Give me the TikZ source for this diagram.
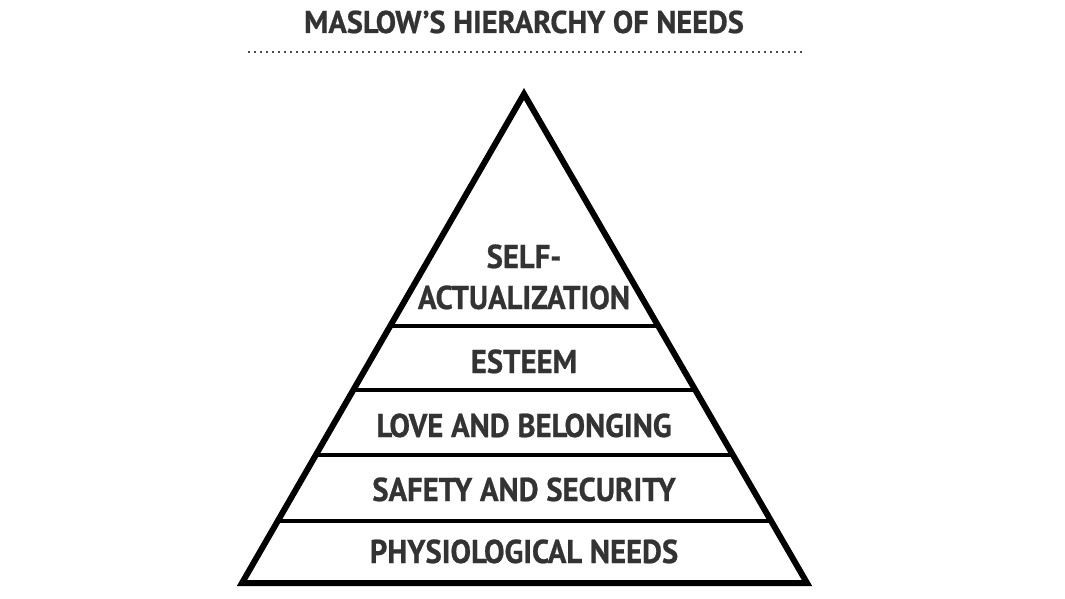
\documentclass[tikz,border=0pt]{standalone}
\usepackage{fontspec}
\setmainfont{PT Sans}[FakeStretch=0.93,BoldFeatures={FakeBold=0.7}]
\newfontfamily\titlefont{PT Sans}[FakeStretch=0.965,BoldFeatures={FakeBold=0.7}]
\usetikzlibrary{calc}
\definecolor{txt}{HTML}{333333}
\begin{document}
\begin{tikzpicture}[x=1pt,y=-1pt,
  lbl/.style={anchor=base,text=txt,font=\fontsize{33}{38}\selectfont\bfseries,inner sep=0pt},
  ttl/.style={anchor=base,text=txt,font=\titlefont\fontsize{31.5}{36}\selectfont\bfseries,inner sep=0pt},
  outline/.style={draw=black,line width=6pt,line join=miter,fill=white},
  tier/.style={draw=black,line width=4pt}]
\useasboundingbox[fill=white] (0,0) rectangle (1065,599);
\node[ttl] (title) at (524,33) {MASLOW’S HIERARCHY OF NEEDS};
\coordinate (d1) at (248,52);
\coordinate (d2) at (803,52);
\draw[gray!60!black,line width=1.5pt,dash pattern=on 1.5pt off 4.5pt] (d1) -- (d2);
\coordinate (A) at (524,94);
\coordinate (L) at (242,583);
\coordinate (R) at (807,583);
\draw[outline] (A) -- (L) -- (R) -- cycle;
\foreach \t/\n in {0.4744/a,0.6053/b,0.7382/c,0.8732/d}{
  \draw[tier] ($(A)!\t!(L)$) -- ($(A)!\t!(R)$);
}
\node[lbl] (self1) at (524,268) {SELF-};
\node[lbl] (self2) at (524,309) {ACTUALIZATION};
\node[lbl] (esteem) at (524,373) {ESTEEM};
\node[lbl] (love) at (524,437) {LOVE AND BELONGING};
\node[lbl] (safety) at (524,501) {SAFETY AND SECURITY};
\node[lbl] (phys) at (524,563) {PHYSIOLOGICAL NEEDS};
\end{tikzpicture}
\end{document}
